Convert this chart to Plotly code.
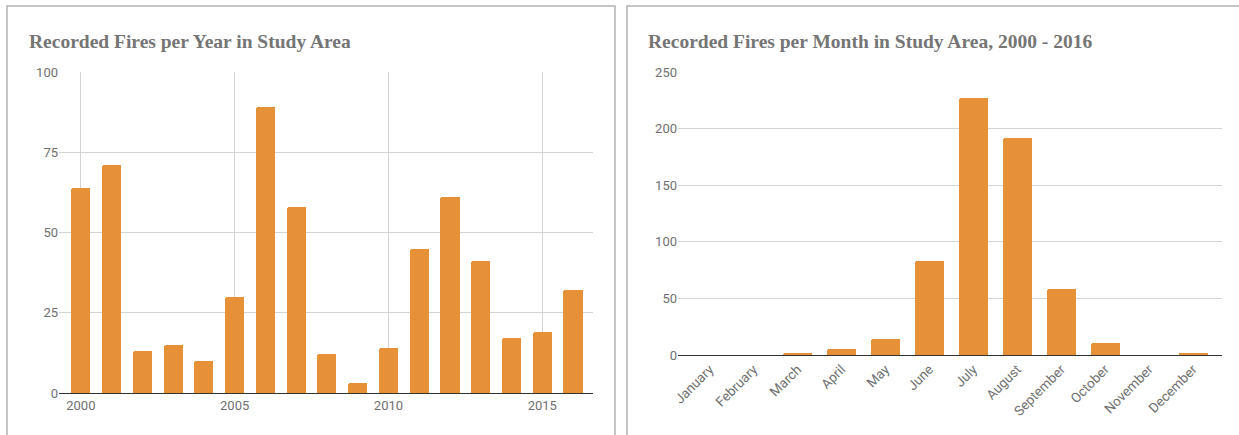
import plotly.graph_objects as go
from plotly.subplots import make_subplots

# Fires per year, 2000-2016
years = list(range(2000, 2017))
fires_per_year = [64, 71, 13, 15, 10, 30, 89, 58, 12, 3, 14, 45, 61, 41, 17, 19, 32]

# Fires per month, 2000-2016 totals
months = ["January", "February", "March", "April", "May", "June", "July",
          "August", "September", "October", "November", "December"]
fires_per_month = [0, 0, 2, 5, 14, 83, 227, 192, 58, 11, 0, 1]

year_ticks = [2000, 2005, 2010, 2015]

W, H = 1239, 435
BAR = "#E69138"
GRID = "#d4d4d4"
TICK_FONT = dict(family="Roboto", size=13, color="#707070")
MONTH_FONT = dict(family="Roboto", size=13.5, color="#707070")
TITLE_FONT = dict(family="Liberation Serif", size=19.5, color="#757575")


def px_x(p):
    return p / W


def px_y(p):
    return 1 - p / H


fig = make_subplots(rows=1, cols=2)

fig.add_trace(go.Bar(x=years, y=fires_per_year, width=0.62,
                     marker=dict(color=BAR, line=dict(width=0), cornerradius=2),
                     hoverinfo="x+y"), row=1, col=1)
fig.add_trace(go.Bar(x=months, y=fires_per_month, width=0.66,
                     marker=dict(color=BAR, line=dict(width=0), cornerradius=2),
                     hoverinfo="x+y"), row=1, col=2)

fig.update_layout(
    width=W, height=H,
    margin=dict(l=0, r=0, t=0, b=0, autoexpand=False),
    paper_bgcolor="white", plot_bgcolor="white",
    showlegend=False, bargap=0,
    xaxis=dict(domain=[px_x(59), px_x(593)], range=[1999.29, 2016.65],
               tickvals=year_ticks, ticktext=[str(v) for v in year_ticks],
               showgrid=True, gridcolor=GRID, gridwidth=1,
               showline=True, linecolor="#333333", linewidth=1.3,
               zeroline=False, ticks="", tickfont=TICK_FONT, automargin=False),
    yaxis=dict(domain=[px_y(393), px_y(72)], range=[0, 100], dtick=25,
               showgrid=True, gridcolor=GRID, gridwidth=1,
               zeroline=False, ticks="", tickfont=TICK_FONT, automargin=False),
    xaxis2=dict(domain=[px_x(678), px_x(1222)], range=[-0.72, 11.66],
                type="category", showgrid=False,
                showline=True, linecolor="#333333", linewidth=1.3,
                zeroline=False, ticks="", tickangle=-45, tickfont=MONTH_FONT,
                automargin=False),
    yaxis2=dict(domain=[px_y(355), px_y(72)], range=[0, 250], dtick=50,
                showgrid=True, gridcolor=GRID, gridwidth=1,
                zeroline=False, ticks="", tickfont=TICK_FONT, automargin=False),
)

# Card outlines around each chart
border = dict(color="#b3b3b3", width=1.5)
fig.add_shape(type="rect", xref="paper", yref="paper",
              x0=px_x(7), x1=px_x(615), y0=-0.1, y1=px_y(6), line=border)
fig.add_shape(type="rect", xref="paper", yref="paper",
              x0=px_x(627), x1=1.02, y0=-0.1, y1=px_y(6), line=border)

# Chart titles
fig.add_annotation(text="<b>Recorded Fires per Year in Study Area</b>",
                   xref="paper", yref="paper", x=px_x(27), y=px_y(41),
                   xanchor="left", yanchor="middle", showarrow=False,
                   font=TITLE_FONT)
fig.add_annotation(text="<b>Recorded Fires per Month in Study Area, 2000 - 2016</b>",
                   xref="paper", yref="paper", x=px_x(646), y=px_y(41),
                   xanchor="left", yanchor="middle", showarrow=False,
                   font=TITLE_FONT)

fig.write_html("out.html")
